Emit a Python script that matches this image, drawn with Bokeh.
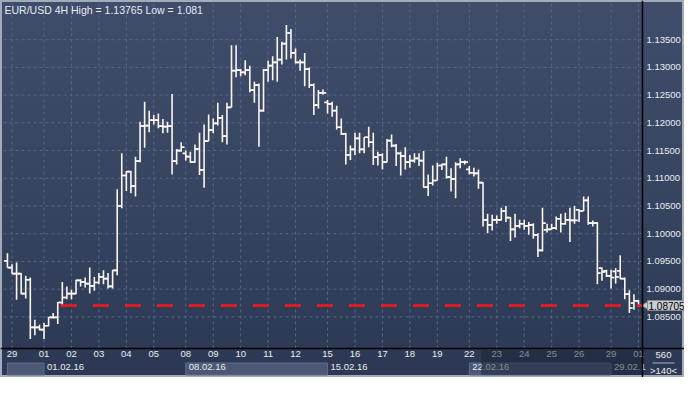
from math import pi
from bokeh.plotting import figure
from bokeh.models import Range1d, BoxAnnotation, Label, ColumnDataSource, Span
from bokeh.core.properties import value
from bokeh.transform import dodge
from bokeh.embed import file_html
from bokeh.resources import INLINE

# ---------------- data (EUR/USD 4H bars) ----------------
bar_idx = list(range(1, 140))
opens = [1.0951, 1.0939, 1.0928, 1.0928, 1.0892, 1.0917, 1.0831, 1.0831, 1.0827, 1.0834,
         1.0849, 1.0849, 1.0876, 1.0885, 1.0892, 1.0892, 1.0916, 1.0913, 1.0910, 1.0906,
         1.0912, 1.0922, 1.0919, 1.0905, 1.0934, 1.1050, 1.1105, 1.1112, 1.1086, 1.1131,
         1.1194, 1.1195, 1.1205, 1.1205, 1.1194, 1.1193, 1.1194, 1.1131, 1.1150, 1.1145,
         1.1139, 1.1129, 1.1153, 1.1115, 1.1167, 1.1187, 1.1199, 1.1209, 1.1176, 1.1228,
         1.1294, 1.1295, 1.1291, 1.1295, 1.1259, 1.1268, 1.1222, 1.1295, 1.1303, 1.1309,
         1.1314, 1.1343, 1.1362, 1.1326, 1.1309, 1.1309, 1.1297, 1.1268, 1.1232, 1.1254,
         1.1237, 1.1234, 1.1222, 1.1192, 1.1180, 1.1142, 1.1152, 1.1172, 1.1152, 1.1174,
         1.1165, 1.1138, 1.1142, 1.1129, 1.1168, 1.1159, 1.1145, 1.1140, 1.1129, 1.1132,
         1.1136, 1.1132, 1.1084, 1.1091, 1.1096, 1.1123, 1.1125, 1.1102, 1.1099, 1.1125,
         1.1129, 1.1116, 1.1110, 1.1109, 1.1092, 1.1025, 1.1016, 1.1025, 1.1025, 1.1041,
         1.1029, 1.1008, 1.1014, 1.1018, 1.1014, 1.1016, 1.0998, 1.0970, 1.1007, 1.1008,
         1.1010, 1.1027, 1.1018, 1.1025, 1.1024, 1.1043, 1.1041, 1.1060, 1.1019, 1.1019,
         1.0938, 1.0933, 1.0924, 1.0932, 1.0933, 1.0919, 1.0891, 1.0875, 1.0879]
highs = [1.0965, 1.0945, 1.0948, 1.0929, 1.0924, 1.0921, 1.0845, 1.0836, 1.0839, 1.0850,
         1.0857, 1.0877, 1.0913, 1.0905, 1.0899, 1.0917, 1.0918, 1.0921, 1.0939, 1.0922,
         1.0929, 1.0934, 1.0929, 1.0934, 1.1080, 1.1145, 1.1113, 1.1113, 1.1139, 1.1202,
         1.1238, 1.1222, 1.1214, 1.1217, 1.1207, 1.1202, 1.1252, 1.1153, 1.1165, 1.1150,
         1.1148, 1.1161, 1.1182, 1.1197, 1.1215, 1.1208, 1.1236, 1.1214, 1.1236, 1.1340,
         1.1340, 1.1297, 1.1313, 1.1303, 1.1274, 1.1271, 1.1297, 1.1312, 1.1320, 1.1355,
         1.1346, 1.13765, 1.1369, 1.1334, 1.1314, 1.1326, 1.1300, 1.1271, 1.1259, 1.1260,
         1.1241, 1.1238, 1.1231, 1.1208, 1.1182, 1.1159, 1.1182, 1.1182, 1.1174, 1.1193,
         1.1182, 1.1148, 1.1145, 1.1171, 1.1179, 1.1162, 1.1148, 1.1156, 1.1142, 1.1145,
         1.1145, 1.1149, 1.1107, 1.1123, 1.1128, 1.1126, 1.1139, 1.1118, 1.1129, 1.1136,
         1.1132, 1.1122, 1.1119, 1.1116, 1.1093, 1.1036, 1.1034, 1.1033, 1.1047, 1.1050,
         1.1030, 1.1036, 1.1025, 1.1025, 1.1021, 1.1019, 1.1001, 1.1047, 1.1018, 1.1018,
         1.1031, 1.1036, 1.1038, 1.1047, 1.1050, 1.1044, 1.1067, 1.1067, 1.1024, 1.1021,
         1.0939, 1.0935, 1.0935, 1.0938, 1.0961, 1.0921, 1.0898, 1.0891, 1.0880]
lows = [1.0939, 1.0928, 1.0881, 1.0891, 1.0883, 1.0810, 1.0817, 1.0826, 1.0810, 1.0833,
        1.0847, 1.0837, 1.0869, 1.0882, 1.0882, 1.0891, 1.0905, 1.0903, 1.0892, 1.0897,
        1.0909, 1.0909, 1.0901, 1.0901, 1.0925, 1.1046, 1.1077, 1.1073, 1.1067, 1.1129,
        1.1155, 1.1183, 1.1197, 1.1190, 1.1181, 1.1182, 1.1107, 1.1125, 1.1148, 1.1132,
        1.1128, 1.1128, 1.1106, 1.1083, 1.1167, 1.1181, 1.1195, 1.1165, 1.1161, 1.1228,
        1.1282, 1.1284, 1.1286, 1.1255, 1.1236, 1.1157, 1.1220, 1.1274, 1.1277, 1.1274,
        1.1305, 1.1314, 1.1316, 1.1307, 1.1294, 1.1266, 1.1263, 1.1214, 1.1226, 1.1251,
        1.1217, 1.1211, 1.1188, 1.1178, 1.1125, 1.1133, 1.1142, 1.1145, 1.1145, 1.1156,
        1.1124, 1.1123, 1.1116, 1.1129, 1.1156, 1.1122, 1.1105, 1.1116, 1.1119, 1.1128,
        1.1122, 1.1083, 1.1068, 1.1087, 1.1096, 1.1115, 1.1099, 1.1076, 1.1064, 1.1118,
        1.1125, 1.1107, 1.1103, 1.1081, 1.1013, 1.1001, 1.1006, 1.1018, 1.1024, 1.1021,
        1.0987, 1.0993, 1.1010, 1.1007, 1.0998, 1.0991, 1.0958, 1.0968, 1.1002, 1.1007,
        1.1007, 1.1002, 1.1016, 1.0985, 1.1018, 1.1021, 1.1041, 1.1016, 1.1013, 1.0909,
        1.0915, 1.0922, 1.0901, 1.0910, 1.0918, 1.0882, 1.0857, 1.0863, 1.0868]
closes = [1.0939, 1.0928, 1.0928, 1.0892, 1.0917, 1.0831, 1.0831, 1.0827, 1.0834, 1.0849,
          1.0849, 1.0876, 1.0885, 1.0892, 1.0892, 1.0916, 1.0913, 1.0910, 1.0906, 1.0912,
          1.0922, 1.0919, 1.0905, 1.0934, 1.1050, 1.1105, 1.1112, 1.1086, 1.1131, 1.1194,
          1.1195, 1.1205, 1.1205, 1.1194, 1.1193, 1.1194, 1.1131, 1.1150, 1.1156, 1.1139,
          1.1129, 1.1153, 1.1115, 1.1167, 1.1187, 1.1199, 1.1209, 1.1176, 1.1228, 1.1294,
          1.1295, 1.1291, 1.1295, 1.1259, 1.1268, 1.1222, 1.1295, 1.1303, 1.1309, 1.1314,
          1.1343, 1.1362, 1.1326, 1.1309, 1.1309, 1.1297, 1.1268, 1.1232, 1.1254, 1.1254,
          1.1234, 1.1222, 1.1192, 1.1180, 1.1142, 1.1152, 1.1172, 1.1152, 1.1174, 1.1165,
          1.1138, 1.1142, 1.1129, 1.1168, 1.1159, 1.1145, 1.1140, 1.1129, 1.1132, 1.1136,
          1.1132, 1.1084, 1.1091, 1.1096, 1.1123, 1.1125, 1.1102, 1.1099, 1.1125, 1.1129,
          1.1129, 1.1110, 1.1109, 1.1092, 1.1025, 1.1016, 1.1025, 1.1025, 1.1041, 1.1029,
          1.1008, 1.1014, 1.1018, 1.1014, 1.1016, 1.0998, 1.0970, 1.1019, 1.1008, 1.1010,
          1.1027, 1.1018, 1.1025, 1.1024, 1.1024, 1.1041, 1.1060, 1.1019, 1.1019, 1.0929,
          1.0931, 1.0924, 1.0921, 1.0922, 1.0919, 1.0891, 1.0866, 1.0879, 1.08705]

day_tick_idx = [2, 9, 15, 21, 27, 33, 40, 46, 52, 58, 64, 71, 77, 83, 89, 95,
                102, 108, 114, 120, 126, 133, 139]
day_labels = ["29", "01", "02", "03", "04", "05", "08", "09", "10", "11", "12", "15",
              "16", "17", "18", "19", "22", "23", "24", "25", "26", "29", "01"]
week_idx = [9, 40, 71, 102, 133]
week_labels = ["01.02.16", "08.02.16", "15.02.16", "22.02.16", "29.02.1"]
price_ticks = [1.085, 1.090, 1.095, 1.100, 1.105, 1.110, 1.115, 1.120, 1.125, 1.130, 1.135]
last_price = 1.08705
level_from_bar = 12.7
overlay_from_bar = 104.6
title_text = "EUR/USD 4H High = 1.13765 Low = 1.081"
corner_top, corner_bottom = "560", ">140<"

# ---------------- layout (pixels) ----------------
W, H = 684, 377
L_PAD, T_PAD = 3, 2          # outer border
R_BAND, B_BAND = 42, 29      # price band on the right, date band below
chart_left, chart_right = 0.14, 139.87      # in bar units
chart_bottom, chart_top = 1.0793, 1.1417    # in price units
ppb = (W - L_PAD - R_BAND) / (chart_right - chart_left)
ppv = (H - T_PAD - B_BAND) / (chart_top - chart_bottom)
x_start = chart_left - L_PAD / ppb
x_end = chart_right + R_BAND / ppb
y_end = chart_top + T_PAD / ppv
y_start = chart_bottom - B_BAND / ppv


def xc(cx):   # canvas x pixel -> bar units
    return x_start + cx / ppb


def yc(cy):   # canvas y pixel (from top) -> price units
    return y_end - cy / ppv


FONT = value("Liberation Sans")
TXT = "#e9ecf2"
BAR = "#fbf6f2"
GRID = "#56668a"
cr_px = W - R_BAND            # canvas x of the price-band separator
cb_px = H - B_BAND            # canvas y of the date-band separator

p = figure(width=W, height=H, output_backend="svg", toolbar_location=None,
           x_range=Range1d(x_start, x_end), y_range=Range1d(y_start, y_end),
           x_axis_location=None, y_axis_location=None,
           min_border_left=0, min_border_right=0, min_border_top=0, min_border_bottom=0)
p.background_fill_color = None
p.border_fill_color = None
p.outline_line_color = None
p.xgrid.visible = False
p.ygrid.visible = False
p.styles = {"background": "linear-gradient(to bottom, #3f4d6b 0%, #36445f 55%, #2c3853 100%)",
            "outline": "2px solid #a3abba", "outline-offset": "-2px"}

# dotted grid inside the chart area
p.segment(x0=chart_left, y0=price_ticks, x1=chart_right, y1=price_ticks,
          line_color=GRID, line_width=1, line_dash="3 3")
p.segment(x0=day_tick_idx, y0=chart_bottom, x1=day_tick_idx, y1=chart_top,
          line_color=GRID, line_width=1, line_dash="3 3")

# week shading in the date band (alternate weeks)
bounds = [1] + week_idx
sh_l = [bounds[k] for k in range(0, len(bounds) - 1, 2)]
sh_r = [bounds[k + 1] for k in range(0, len(bounds) - 1, 2)]
p.quad(left=sh_l, right=sh_r, top=yc(cb_px + 14.5), bottom=yc(H - 2.5),
       fill_color="#4a5875", line_color="#5f6d89", line_width=1)

# OHLC bars
src = ColumnDataSource(dict(x=bar_idx, o=opens, h=highs, l=lows, c=closes))
p.segment(x0="x", y0="l", x1="x", y1="h", source=src, line_color=BAR, line_width=1.6)
p.segment(x0=dodge("x", -0.72), y0="o", x1="x", y1="o", source=src,
          line_color=BAR, line_width=1.7)
p.segment(x0="x", y0="c", x1=dodge("x", 0.72), y1="c", source=src,
          line_color=BAR, line_width=1.7)

# current-price dashed level
p.segment(x0=[level_from_bar], y0=[last_price], x1=[chart_right], y1=[last_price],
          line_color="#ff1414", line_width=2.5, line_dash="16 16")

# price labels on the right band
p.text(x=[xc(cr_px + 4)] * len(price_ticks), y=price_ticks,
       text=[f"{v:.5f}" for v in price_ticks], text_align="left",
       text_baseline="middle", text_color=TXT, text_font=FONT, text_font_size="9.5px")

# day labels and week labels in the bottom band
p.text(x=day_tick_idx, y=[yc(cb_px + 2)] * len(day_tick_idx), text=day_labels,
       text_align="center", text_baseline="top", text_color=TXT, text_font=FONT,
       text_font_size="9.5px")
p.text(x=week_idx, y=[yc(cb_px + 15.5)] * len(week_idx), text=week_labels,
       x_offset=3, text_align="left", text_baseline="top", text_color=TXT,
       text_font=FONT, text_font_size="9.5px")

# dark scroll overlay over the bottom band (drawn above the labels)
p.add_layout(BoxAnnotation(left=overlay_from_bar, right=chart_right,
                           top=yc(cb_px + 1.5), bottom=yc(H - 2.5),
                           fill_color="#1c2236", fill_alpha=0.5, line_color=None))

# separators
p.add_layout(Span(location=chart_right, dimension="height", line_color="black",
                  line_width=1.5))
p.add_layout(Span(location=chart_bottom, dimension="width", line_color="black",
                  line_width=1.5))

# price tag with pointer
p.scatter(x=[xc(cr_px + 3.5)], y=[last_price], marker="triangle", angle=pi / 2,
          size=8, fill_color="#c9cdd4", line_color="#8a8a8a")
p.add_layout(Label(x=cr_px + 5, y=last_price, x_units="canvas", y_units="data",
                   text=f"{last_price:.5f}", text_baseline="middle", text_align="left",
                   text_color="black", text_font="Liberation Sans", text_font_size="10px",
                   background_fill_color="#c9cdd4", border_line_color="#8a8a8a",
                   padding=1))

# title
p.add_layout(Label(x=4, y=3, x_units="canvas", y_units="canvas", text=title_text,
                   text_baseline="top", text_align="left", text_color=TXT,
                   text_font="Liberation Sans", text_font_size="10.5px"))

# corner counters
cx_mid = W - R_BAND / 2
p.add_layout(Label(x=cx_mid, y=cb_px + 3, x_units="canvas", y_units="canvas",
                   text=corner_top, text_baseline="top", text_align="center",
                   text_color=TXT, text_font="Liberation Sans", text_font_size="9.5px"))
p.segment(x0=[xc(cr_px + 10)], y0=[yc(cb_px + 14.5)], x1=[xc(W - 10)],
          y1=[yc(cb_px + 14.5)], line_color="#aab3c4", line_width=1)
p.add_layout(Label(x=cx_mid, y=cb_px + 16, x_units="canvas", y_units="canvas",
                   text=corner_bottom, text_baseline="top", text_align="center",
                   text_color=TXT, text_font="Liberation Sans", text_font_size="9.5px"))

open("out.html", "w").write(file_html(p, INLINE))
